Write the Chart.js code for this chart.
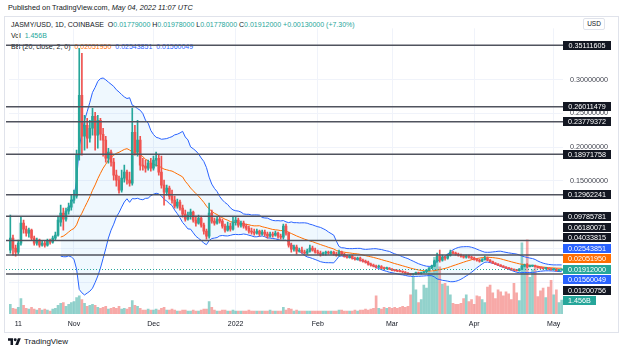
<!DOCTYPE html>
<html>
<head>
<meta charset="utf-8">
<script src="https://cdn.jsdelivr.net/npm/chart.js@4.4.0/dist/chart.umd.min.js"></script>
<style>
  body { margin: 0; background: #fff; width: 624px; height: 353px; overflow: hidden;
         font-family: "Liberation Sans", Arial, sans-serif; color: #131722; position: relative; }
  .abs { position: absolute; white-space: nowrap; line-height: 1; }
  #pub { left: 8px; top: 4px; font-size: 7.3px; color: #131722; }
  #pub i { font-style: italic; }
  #frame { left: 4px; top: 16px; width: 615px; height: 317px; border: 1px solid #e0e3eb; box-sizing: border-box; }
  .leg { left: 11px; font-size: 7px; color: #131722; z-index: 1; }
  .up { color: #26a69a; }
  .or { color: #ff6d00; }
  .bl { color: #2962ff; }
  #usd { left: 583px; top: 18px; width: 20px; height: 10px; border: 1px solid #e0e3eb; border-radius: 2px;
         font-size: 6.5px; text-align: center; line-height: 10px; color: #131722; }
  #wrap { position: absolute; left: 5px; top: 17px; width: 613px; height: 316px; z-index: 2; }
  #logo { left: 8px; top: 337px; font-size: 8px; color: #131722; display: flex; align-items: center; gap: 3px; }
</style>
</head>
<body>
<div class="abs" id="pub">Published on TradingView.com, <i>May 04, 2022 11:07 UTC</i></div>
<div class="abs" id="frame"></div>
<div class="abs leg" style="top:21px">JASMY/USD, 1D, COINBASE&nbsp; O<span class="up">0.01779000</span> H<span class="up">0.01978000</span> L<span class="up">0.01778000</span> C<span class="up">0.01912000</span> <span class="up">+0.00130000 (+7.30%)</span></div>
<div class="abs leg" style="top:32px">Vol&nbsp; <span class="up">1.456B</span></div>
<div class="abs leg" style="top:43px">BB (20, close, 2, 0)&nbsp; <span class="or">0.02051950</span>&nbsp; <span class="bl">0.02543851</span>&nbsp; <span class="bl">0.01560049</span></div>
<div class="abs" id="usd">USD</div>
<div id="wrap"><canvas id="chart" width="613" height="316"></canvas></div>
<div class="abs" id="logo">
  <svg width="13" height="9" viewBox="0 0 36 24"><path d="M14 22H7V10H0V3h14v19zM28 22h-8l7.5-19h8L28 22z" fill="#131722"/><circle cx="20" cy="7" r="4" fill="#131722"/></svg>
  <span>TradingView</span>
</div>

<script>
// ── Data (daily candles, 2021-10-08 → 2022-05-04) ─────────────
const startDay = '2021-10-08';

const opens = [
  .0475,.0653,.0505,.0446,.0579,.0875,.0786,.0727,.0771,.0653,
  .0579,.0623,.0549,.0579,.0549,.0609,.0594,.0653,.0697,.0890,
  .1023,.0934,.1053,.1112,.1215,.1275,.1882,.2770,.2163,.2326,
  .2133,.2281,.2459,.2178,.2400,.2192,.2104,.1837,.1926,.1778,
  .1586,.1512,.1364,.1541,.1630,.1512,.1467,.2222,.1926,.2104,
  .1734,.1719,.1689,.1763,.1689,.1808,.1837,.1630,.1438,.1334,
  .1393,.1275,.1215,.1127,.1186,.1097,.1008,.0934,.0993,.1038,
  .0919,.0875,.0949,.0845,.0757,.0683,.1023,.0905,.0875,.0934,
  .0905,.0831,.0771,.0831,.0786,.0890,.0919,.0845,.0875,.0831,
  .0801,.0757,.0742,.0727,.0757,.0712,.0742,.0712,.0683,.0712,
  .0697,.0727,.0683,.0668,.0831,.0727,.0549,.0490,.0520,.0460,
  .0475,.0446,.0431,.0460,.0505,.0475,.0446,.0431,.0416,.0431,
  .0446,.0431,.0446,.0416,.0401,.0446,.0416,.0386,.0372,.0386,
  .0357,.0342,.0357,.0327,.0312,.0298,.0268,.0253,.0238,.0224,
  .0231,.0209,.0201,.0209,.0194,.0179,.0172,.0164,.0157,.0150,
  .0135,.0120,.0112,.0120,.0142,.0127,.0142,.0150,.0179,.0209,
  .0238,.0312,.0386,.0327,.0372,.0357,.0401,.0446,.0431,.0416,
  .0401,.0386,.0372,.0386,.0372,.0357,.0335,.0327,.0312,.0335,
  .0357,.0327,.0305,.0283,.0268,.0253,.0238,.0224,.0209,.0201,
  .0187,.0179,.0172,.0194,.0238,.0253,.0231,.0238,.0246,.0231,
  .0216,.0209,.0201,.0205,.0194,.0187,.0194,.0172,.01779
];
const highs = [
  .0993,.0698,.0549,.0623,.0964,.0919,.0831,.0801,.0786,.0683,
  .0653,.0638,.0609,.0609,.0638,.0638,.0683,.0742,.0979,.1141,
  .1097,.1097,.1171,.1290,.1364,.1956,.3466,.3392,.2474,.2429,
  .2400,.2577,.2518,.2474,.2429,.2281,.2163,.1985,.1956,.1837,
  .1660,.1571,.1660,.1734,.1660,.1630,.2577,.2326,.2400,.2163,
  .1837,.1808,.1808,.1837,.1867,.1926,.1896,.1867,.1512,.1438,
  .1423,.1364,.1275,.1230,.1215,.1141,.1067,.1038,.1082,.1053,
  .0979,.0993,.0979,.0875,.0786,.1171,.1067,.0949,.0964,.0979,
  .0934,.0860,.0890,.0875,.0964,.0964,.0949,.0905,.0905,.0860,
  .0831,.0801,.0786,.0786,.0771,.0771,.0771,.0742,.0742,.0742,
  .0757,.0742,.0712,.0860,.0860,.0742,.0579,.0549,.0549,.0505,
  .0520,.0475,.0490,.0549,.0535,.0505,.0475,.0460,.0446,.0460,
  .0460,.0460,.0460,.0446,.0475,.0460,.0431,.0401,.0401,.0401,
  .0372,.0372,.0372,.0342,.0327,.0312,.0283,.0268,.0253,.0253,
  .0246,.0224,.0224,.0216,.0201,.0187,.0179,.0172,.0164,.0157,
  .0142,.0127,.0127,.0150,.0150,.0150,.0157,.0187,.0216,.0253,
  .0327,.0431,.0475,.0401,.0386,.0416,.0475,.0460,.0446,.0431,
  .0416,.0401,.0401,.0401,.0386,.0372,.0349,.0342,.0349,.0386,
  .0372,.0335,.0312,.0290,.0275,.0260,.0246,.0231,.0216,.0209,
  .0194,.0187,.0201,.0253,.0268,.0275,.0253,.0253,.0253,.0238,
  .0224,.0216,.0216,.0209,.0201,.0201,.0201,.0187,.01978
];
const lows = [
  .0431,.0401,.0386,.0416,.0549,.0727,.0683,.0668,.0623,.0549,
  .0549,.0520,.0535,.0520,.0535,.0564,.0579,.0623,.0683,.0831,
  .0771,.0905,.1008,.1067,.1171,.1245,.1808,.1882,.1956,.1985,
  .2074,.2178,.1956,.1985,.2104,.1867,.1778,.1763,.1719,.1512,
  .1423,.1319,.1334,.1482,.1452,.1423,.1438,.1882,.1867,.1660,
  .1660,.1630,.1660,.1645,.1660,.1719,.1586,.1393,.1141,.1290,
  .1230,.1171,.1097,.1097,.1067,.0964,.0905,.0919,.0934,.0890,
  .0831,.0860,.0816,.0712,.0638,.0653,.0875,.0845,.0860,.0875,
  .0801,.0742,.0757,.0757,.0771,.0845,.0816,.0816,.0801,.0771,
  .0727,.0712,.0697,.0712,.0683,.0697,.0683,.0653,.0668,.0668,
  .0683,.0653,.0638,.0638,.0697,.0520,.0446,.0460,.0416,.0446,
  .0431,.0416,.0416,.0446,.0460,.0431,.0416,.0386,.0401,.0401,
  .0416,.0416,.0401,.0386,.0386,.0401,.0372,.0357,.0357,.0342,
  .0327,.0327,.0312,.0298,.0283,.0253,.0238,.0224,.0209,.0216,
  .0201,.0187,.0194,.0187,.0172,.0164,.0157,.0150,.0142,.0127,
  .0112,.0105,.0105,.0112,.0120,.0120,.0135,.0142,.0172,.0201,
  .0231,.0298,.0298,.0312,.0327,.0342,.0386,.0416,.0401,.0386,
  .0372,.0357,.0357,.0357,.0342,.0327,.0312,.0298,.0305,.0327,
  .0320,.0298,.0275,.0260,.0246,.0231,.0216,.0201,.0194,.0179,
  .0172,.0164,.0164,.0187,.0224,.0216,.0224,.0231,.0224,.0209,
  .0201,.0194,.0194,.0187,.0179,.0179,.0164,.0164,.01778
];
const closes = [
  .0653,.0505,.0446,.0579,.0875,.0786,.0727,.0771,.0653,.0579,
  .0623,.0549,.0579,.0549,.0609,.0594,.0653,.0697,.0919,.1023,
  .0934,.1053,.1112,.1215,.1275,.1882,.2770,.2163,.2326,.2133,
  .2281,.2459,.2178,.2400,.2192,.2104,.1837,.1926,.1778,.1586,
  .1512,.1364,.1541,.1630,.1512,.1467,.2222,.1926,.2104,.1734,
  .1719,.1689,.1763,.1689,.1808,.1837,.1630,.1438,.1334,.1393,
  .1275,.1215,.1127,.1186,.1097,.1008,.0934,.0993,.1038,.0919,
  .0875,.0949,.0845,.0757,.0683,.1023,.0905,.0875,.0934,.0905,
  .0831,.0771,.0831,.0786,.0890,.0919,.0845,.0875,.0831,.0801,
  .0757,.0742,.0727,.0757,.0712,.0742,.0712,.0683,.0712,.0697,
  .0727,.0683,.0668,.0831,.0727,.0549,.0490,.0520,.0460,.0475,
  .0446,.0431,.0460,.0505,.0475,.0446,.0431,.0416,.0431,.0446,
  .0431,.0446,.0416,.0401,.0446,.0416,.0386,.0372,.0386,.0357,
  .0342,.0357,.0327,.0312,.0298,.0268,.0253,.0238,.0224,.0231,
  .0209,.0201,.0209,.0194,.0179,.0172,.0164,.0157,.0150,.0135,
  .0120,.0112,.0120,.0142,.0127,.0142,.0150,.0179,.0209,.0238,
  .0312,.0386,.0327,.0372,.0357,.0401,.0446,.0431,.0416,.0401,
  .0386,.0372,.0386,.0372,.0357,.0335,.0327,.0312,.0335,.0357,
  .0327,.0305,.0283,.0268,.0253,.0238,.0224,.0209,.0201,.0187,
  .0179,.0172,.0194,.0238,.0253,.0231,.0238,.0246,.0231,.0216,
  .0209,.0201,.0205,.0194,.0187,.0194,.0172,.01779,.01912
];
// volume in billions
const volumes = [
  1.0,.6,.5,.7,1.6,.9,.6,.5,.7,.5,
  .4,.6,.4,.5,.4,.3,.5,.6,.9,1.1,
  1.2,.8,1.0,1.2,1.3,1.7,1.9,1.5,1.1,.8,
  .9,1.0,.9,.7,.6,.7,.8,.5,.6,.7,
  .6,.8,.5,.6,.5,.7,1.4,.9,.8,.6,
  .4,.4,.5,.4,.4,.5,.4,.6,.7,.4,
  .4,.5,.4,.3,.3,.4,.4,.3,.3,.4,
  .3,.3,.4,.5,.5,1.3,.7,.4,.3,.3,
  .4,.4,.3,.3,.4,.3,.3,.3,.3,.3,
  .4,.3,.3,.3,.3,.3,.3,.3,.4,.3,
  .3,.3,.3,.7,.4,.6,.5,.3,.4,.3,
  .3,.3,.3,.3,.3,.3,.3,.3,.3,.3,
  .3,.3,.3,.3,.4,.4,.3,.3,.3,.3,
  .4,.3,.4,.4,.5,.4,.5,.6,1.9,.6,
  .5,.7,.6,.7,.6,.7,.6,.7,.8,.7,
  .8,2.0,3.8,2.5,1.2,1.5,3.0,2.7,4.8,4.3,
  5.9,5.6,4.9,3.1,3.2,2.9,2.0,1.1,1.0,1.0,
  1.1,1.6,2.0,1.3,1.5,1.0,1.9,1.8,1.5,1.2,
  2.8,3.0,2.2,1.6,2.5,2.3,1.9,2.3,2.1,1.5,
  3.2,2.2,1.4,7.4,5.1,7.7,3.8,4.6,4.9,1.8,
  2.4,2.7,1.7,2.8,3.5,2.0,2.5,1.2,1.456
];

const tickDates = ['2021-10-11','2021-11-01','2021-12-01','2022-01-01','2022-02-01','2022-03-01','2022-04-01','2022-05-01'];
const tickTexts = ['11','Nov','Dec','2022','Feb','Mar','Apr','May'];
const priceTicks = [0, 0.05, 0.10, 0.15, 0.20, 0.25, 0.30, 0.35];

// horizontal levels drawn on the chart
const levelLines = [0.35111605, 0.26011479, 0.23779372, 0.18971758, 0.12962241, 0.09785781, 0.06180071, 0.04033815, 0.01200756];
// last values shown in the BB legend / axis tags
const bbBasisLast = 0.02051950;
const bbUpperLast = 0.02543851;
const bbLowerLast = 0.01560049;
const lastPrice = 0.01912000;

// ── Helpers ───────────────────────────────────────
const UP = '#26a69a', DOWN = '#ef5350';

const days = closes.map((_, i) => {
  const d = new Date(startDay + 'T00:00:00Z');
  d.setUTCDate(d.getUTCDate() + i);
  return d.toISOString().slice(0, 10);
});

// Bollinger bands (20, close, 2)
function bollinger(src, len, mult) {
  const basis = [], upper = [], lower = [];
  for (let i = 0; i < src.length; i++) {
    if (i < len - 1) { basis.push(null); upper.push(null); lower.push(null); continue; }
    const win = src.slice(i - len + 1, i + 1);
    const m = win.reduce((a, b) => a + b, 0) / len;
    const sd = Math.sqrt(win.reduce((a, b) => a + (b - m) * (b - m), 0) / len);
    basis.push(m); upper.push(m + mult * sd); lower.push(m - mult * sd);
  }
  return { basis, upper, lower };
}
const bb = bollinger(closes, 20, 2);

const isUp = closes.map((c, i) => c >= opens[i]);
const candleColors = isUp.map(u => u ? UP : DOWN);
const volColors = isUp.map(u => u ? 'rgba(38,166,154,0.5)' : 'rgba(239,83,80,0.5)');

// ── Overlay: level lines + price scale tags ───────
const overlay = {
  id: 'overlay',
  afterDatasetsDraw(chart) {
    const { ctx, chartArea: a, scales: { y, y2 } } = chart;
    ctx.save();

    ctx.strokeStyle = '#50535e';
    ctx.lineWidth = 1.5;
    levelLines.forEach(v => {
      const py = y.getPixelForValue(v);
      ctx.beginPath(); ctx.moveTo(a.left - 3, py); ctx.lineTo(a.right, py); ctx.stroke();
    });

    // last price dotted line
    ctx.strokeStyle = UP; ctx.lineWidth = 1; ctx.setLineDash([1, 2]);
    const lp = Math.round(y.getPixelForValue(lastPrice)) + 0.5;
    ctx.beginPath(); ctx.moveTo(a.left - 3, lp); ctx.lineTo(a.right, lp); ctx.stroke();
    ctx.setLineDash([]);

    const tags = levelLines.map(v => ({ py: y.getPixelForValue(v), text: v.toFixed(8), bg: '#131722' }));
    tags.push({ py: y.getPixelForValue(bbUpperLast), text: bbUpperLast.toFixed(8), bg: '#2962ff' });
    tags.push({ py: y.getPixelForValue(bbBasisLast), text: bbBasisLast.toFixed(8), bg: '#ff6d00' });
    tags.push({ py: y.getPixelForValue(lastPrice), text: lastPrice.toFixed(8), bg: UP, pin: true });
    tags.push({ py: y.getPixelForValue(bbLowerLast), text: bbLowerLast.toFixed(8), bg: '#2962ff' });
    tags.push({ py: y2.getPixelForValue(volumes[volumes.length - 1]), text: '1.456B', bg: UP, w: 33 });
    tags.sort((p, q) => p.py - q.py);

    const step = 10.5;
    const pin = tags.findIndex(t => t.pin);
    tags.forEach(t => t.pos = t.py);
    for (let i = pin - 1; i >= 0; i--) tags[i].pos = Math.min(tags[i].py, tags[i + 1].pos - step);
    for (let i = pin + 1; i < tags.length; i++) tags[i].pos = Math.max(tags[i].py, tags[i - 1].pos + step);

    ctx.font = '7.2px "Liberation Sans", Arial, sans-serif';
    ctx.textBaseline = 'middle';
    ctx.textAlign = 'center';
    tags.forEach(t => {
      const w = t.w || 48;
      ctx.fillStyle = t.bg;
      ctx.fillRect(a.right, Math.round(t.pos - 4.5), w, 9);
      ctx.fillStyle = '#fff';
      ctx.fillText(t.text, a.right + w / 2, t.pos + 0.5);
    });
    ctx.restore();
  }
};

// ── Chart ─────────────────────────────────────────
new Chart(document.getElementById('chart'), {
  data: {
    labels: days,
    datasets: [
      { type: 'bar', data: volumes, yAxisID: 'y2', backgroundColor: volColors,
        barThickness: 2, grouped: false, order: 10 },
      { type: 'line', data: bb.upper, borderColor: '#2962ff', borderWidth: 1, pointRadius: 0,
        fill: '+2', backgroundColor: 'rgba(33,150,243,0.07)', order: 5 },
      { type: 'line', data: bb.basis, borderColor: '#ff6d00', borderWidth: 1, pointRadius: 0, fill: false, order: 4 },
      { type: 'line', data: bb.lower, borderColor: '#2962ff', borderWidth: 1, pointRadius: 0, fill: false, order: 5 },
      { type: 'bar', data: lows.map((l, i) => [l, highs[i]]), backgroundColor: candleColors,
        barThickness: 1, grouped: false, order: 2 },
      { type: 'bar', data: opens.map((o, i) => [o, closes[i]]), backgroundColor: candleColors,
        barThickness: 2, minBarLength: 1, grouped: false, order: 1 }
    ]
  },
  options: {
    responsive: false,
    animation: false,
    events: [],
    layout: { padding: { left: 4, top: 11, right: 0, bottom: 0 } },
    plugins: { legend: { display: false }, tooltip: { enabled: false } },
    scales: {
      x: {
        type: 'category',
        grid: { color: '#f0f3fa', offset: false, drawTicks: false },
        border: { display: false },
        afterFit: s => { s.height = 19; },
        ticks: {
          autoSkip: false, maxRotation: 0, padding: 6,
          color: '#131722', font: { size: 7, family: '"Liberation Sans", Arial, sans-serif' },
          callback: (v, i) => {
            const k = tickDates.indexOf(days[i]);
            return k >= 0 ? tickTexts[k] : null;
          }
        }
      },
      y: {
        position: 'right',
        min: -0.0472, max: 0.3762,
        grid: { color: '#f0f3fa', drawTicks: false },
        border: { display: false },
        afterBuildTicks: s => { s.ticks = priceTicks.map(v => ({ value: v })); },
        afterFit: s => { s.width = 55; },
        ticks: {
          padding: 7, color: '#434651',
          font: { size: 7.2, family: '"Liberation Sans", Arial, sans-serif' },
          callback: v => v.toFixed(8)
        }
      },
      y2: { display: false, min: 0, max: 29.7 }
    }
  },
  plugins: [overlay]
});
</script>
</body>
</html>
